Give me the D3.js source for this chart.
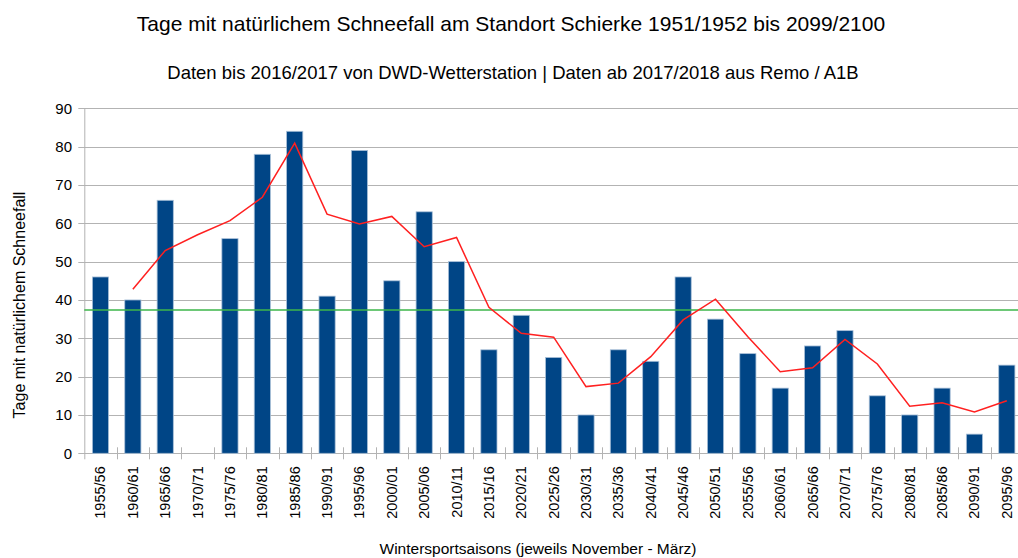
<!DOCTYPE html>
<html>
<head>
<meta charset="utf-8">
<script src="https://cdn.jsdelivr.net/npm/d3@7"></script>
<style>
  body { margin: 0; background: #fff; }
  svg { display: block; font-family: "Liberation Sans", Arial, sans-serif; }
</style>
</head>
<body>
<svg id="chart" width="1018" height="558"></svg>
<script>
// seasons on the x axis
const seasons = ["1955/56","1960/61","1965/66","1970/71","1975/76","1980/81","1985/86","1990/91",
  "1995/96","2000/01","2005/06","2010/11","2015/16","2020/21","2025/26","2030/31","2035/36",
  "2040/41","2045/46","2050/51","2055/56","2060/61","2065/66","2070/71","2075/76","2080/81",
  "2085/86","2090/91","2095/96"];

// days with snowfall (null = no value)
const snowDays = [46, 40, 66, null, 56, 78, 84, 41, 79, 45, 63, 50, 27, 36, 25, 10, 27, 24,
  46, 35, 26, 17, 28, 32, 15, 10, 17, 5, 23];

// red trend line
const trend = [null, 42.8, 52.9, 57, 60.7, 66.8, 80.9, 62.4, 59.8, 61.8, 53.9, 56.3, 38.1,
  31.3, 30.3, 17.4, 18.3, 25.2, 34.8, 40.2, 30.4, 21.3, 22.3, 29.7, 23.3, 12.3, 13.2, 10.8, 13.7];

// green reference line
const average = 37.4;

const yTicks = d3.range(0, 91, 10);

const svg = d3.select('#chart');
const margin = { left: 84.3, top: 108.3, right: 1023, bottom: 453.3 };

const x = d3.scaleBand()
  .domain(seasons)
  .range([margin.left, margin.right])
  .paddingInner(0.5)
  .paddingOuter(0.25);

const y = d3.scaleLinear()
  .domain([0, 90])
  .range([margin.bottom, margin.top]);

// grid lines
svg.append('g')
  .selectAll('line')
  .data(yTicks)
  .enter().append('line')
  .attr('x1', margin.left - 6)
  .attr('x2', margin.right)
  .attr('y1', d => Math.round(y(d)) + 0.5)
  .attr('y2', d => Math.round(y(d)) + 0.5)
  .attr('stroke', '#b3b3b3')
  .attr('stroke-width', 1);

// y axis line
svg.append('line')
  .attr('x1', margin.left + 0.5).attr('x2', margin.left + 0.5)
  .attr('y1', margin.top).attr('y2', margin.bottom + 6)
  .attr('stroke', '#b3b3b3');

// y tick labels
svg.append('g')
  .selectAll('text')
  .data(yTicks)
  .enter().append('text')
  .attr('x', 72)
  .attr('y', d => y(d))
  .attr('dy', '0.36em')
  .attr('text-anchor', 'end')
  .attr('font-size', 15)
  .attr('fill', '#000')
  .text(d => d);

// x category ticks (between bands)
svg.append('g')
  .selectAll('line')
  .data(d3.range(1, seasons.length))
  .enter().append('line')
  .attr('x1', i => Math.round(margin.left + i * (margin.right - margin.left) / seasons.length) + 0.5)
  .attr('x2', i => Math.round(margin.left + i * (margin.right - margin.left) / seasons.length) + 0.5)
  .attr('y1', margin.bottom - 6)
  .attr('y2', margin.bottom + 6)
  .attr('stroke', '#b3b3b3');

// bars
const barData = seasons.map((s, i) => ({ season: s, value: snowDays[i] }))
  .filter(d => d.value !== null);

svg.append('g')
  .selectAll('rect')
  .data(barData)
  .enter().append('rect')
  .attr('x', d => x(d.season))
  .attr('y', d => y(d.value))
  .attr('width', x.bandwidth())
  .attr('height', d => y(0) - y(d.value))
  .attr('fill', '#004586')
  .attr('stroke', '#a9c0d8')
  .attr('stroke-width', 0.8);

// x tick labels
svg.append('g')
  .selectAll('text')
  .data(seasons)
  .enter().append('text')
  .attr('transform', d => `translate(${x(d) + x.bandwidth() / 2 + 5},${margin.bottom + 13}) rotate(-90)`)
  .attr('text-anchor', 'end')
  .attr('font-size', 14.5)
  .attr('fill', '#000')
  .text(d => d);

// green average line
svg.append('line')
  .attr('x1', margin.left)
  .attr('x2', margin.right)
  .attr('y1', y(average))
  .attr('y2', y(average))
  .attr('stroke', '#3cb64a')
  .attr('stroke-width', 1.5);

// red trend line
const line = d3.line()
  .defined(d => d.value !== null)
  .x(d => x(d.season) + x.bandwidth() / 2)
  .y(d => y(d.value));

svg.append('path')
  .datum(seasons.map((s, i) => ({ season: s, value: trend[i] })))
  .attr('d', line)
  .attr('fill', 'none')
  .attr('stroke', '#ff2020')
  .attr('stroke-width', 1.5);

// titles
svg.append('text')
  .attr('x', 511).attr('y', 31)
  .attr('text-anchor', 'middle')
  .attr('font-size', 21)
  .text('Tage mit natürlichem Schneefall am Standort Schierke 1951/1952 bis 2099/2100');

svg.append('text')
  .attr('x', 513).attr('y', 79)
  .attr('text-anchor', 'middle')
  .attr('font-size', 18.5)
  .text('Daten bis 2016/2017 von DWD-Wetterstation | Daten ab 2017/2018 aus Remo / A1B');

svg.append('text')
  .attr('x', 538).attr('y', 554)
  .attr('text-anchor', 'middle')
  .attr('font-size', 15.5)
  .text('Wintersportsaisons (jeweils November - März)');

svg.append('text')
  .attr('transform', 'translate(25,305) rotate(-90)')
  .attr('text-anchor', 'middle')
  .attr('font-size', 16)
  .text('Tage mit natürlichem Schneefall');
</script>
</body>
</html>
